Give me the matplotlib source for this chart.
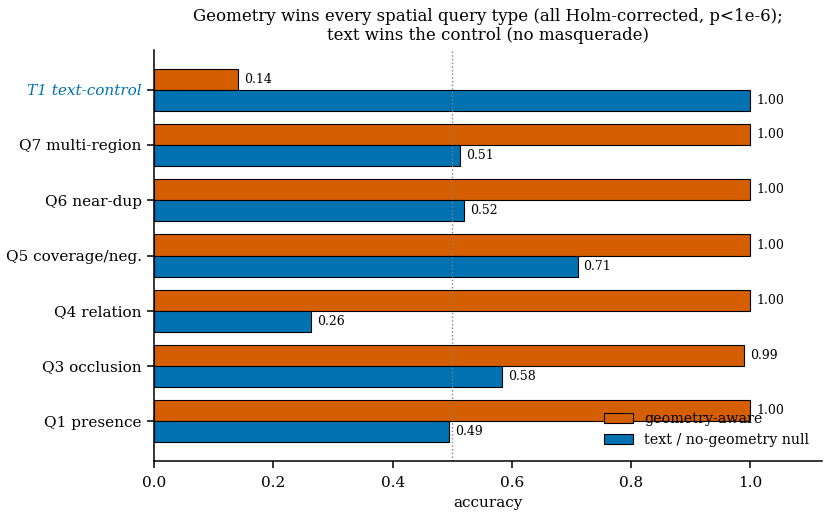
import matplotlib.pyplot as plt
import numpy as np

plt.rcParams['font.family'] = 'DejaVu Serif'

# カテゴリ（下から上）
categories = ['Q1 presence', 'Q3 occlusion', 'Q4 relation', 'Q5 coverage/neg.',
              'Q6 near-dup', 'Q7 multi-region', 'T1 text-control']
geometry_acc = [1.00, 0.99, 1.00, 1.00, 1.00, 1.00, 0.14]
text_acc = [0.494, 0.583, 0.263, 0.71, 0.52, 0.513, 1.00]

c_geo = '#D55E00'
c_text = '#0072B2'

fig = plt.figure(figsize=(8.29, 5.18), dpi=100)
ax = fig.add_axes([0.186, 0.11, 0.8055, 0.7935])

y = np.arange(len(categories))
h = 0.38
ax.barh(y + h / 2, geometry_acc, height=h, color=c_geo, edgecolor='black',
        linewidth=0.8, label='geometry-aware')
ax.barh(y - h / 2, text_acc, height=h, color=c_text, edgecolor='black',
        linewidth=0.8, label='text / no-geometry null')

# 値ラベル
for yi, g, t in zip(y, geometry_acc, text_acc):
    ax.text(g + 0.01, yi + h / 2, f'{g:.2f}', va='center', ha='left', fontsize=9)
    ax.text(t + 0.01, yi - h / 2, f'{t:.2f}', va='center', ha='left', fontsize=9)

ax.axvline(0.5, color='gray', linestyle=':', linewidth=1)

ax.set_yticks(y)
ax.set_yticklabels(categories, fontsize=11)
ax.tick_params(axis='x', labelsize=11)
ax.tick_params(axis='both', length=5, width=1.1, pad=6)
ax.tick_params(axis='y', pad=4)
lab = ax.get_yticklabels()[-1]
lab.set_color(c_text)
lab.set_style('italic')

ax.set_xlim(0, 1.12)
ax.set_xlabel('accuracy', fontsize=11)
ax.set_title('Geometry wins every spatial query type (all Holm-corrected, p<1e-6);\n'
             'text wins the control (no masquerade)', fontsize=12, pad=7)
ax.spines['top'].set_visible(False)
ax.spines['right'].set_visible(False)
ax.spines['left'].set_linewidth(1.1)
ax.spines['bottom'].set_linewidth(1.1)
ax.legend(loc='lower right', frameon=False, fontsize=10.3,
          bbox_to_anchor=(1.0, 0.003))

fig.savefig('out.png', dpi=100)
